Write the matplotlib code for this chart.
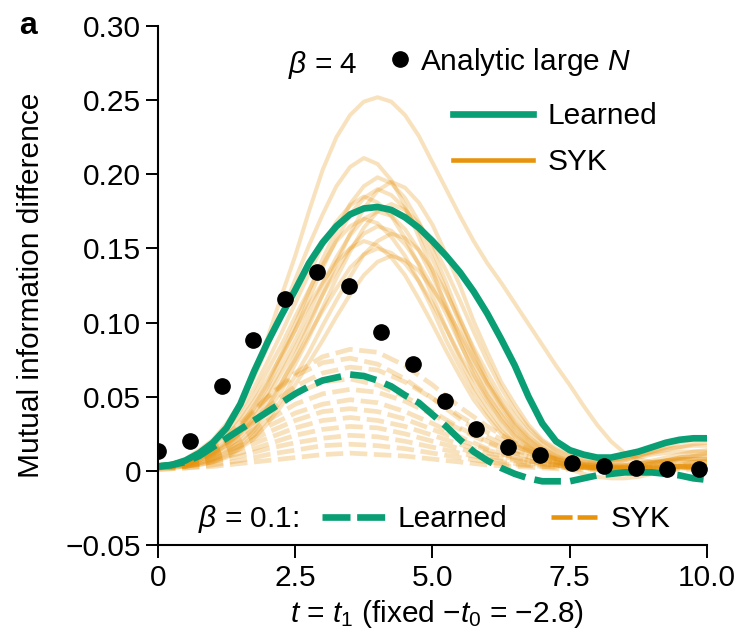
import numpy as np
import matplotlib
matplotlib.use("Agg")
import matplotlib.pyplot as plt

plt.rcParams['font.family'] = ['Liberation Sans', 'DejaVu Sans']
plt.rcParams['mathtext.fontset'] = 'custom'
plt.rcParams['mathtext.rm'] = 'Liberation Sans'
plt.rcParams['mathtext.it'] = 'Liberation Sans:italic'
plt.rcParams['mathtext.bf'] = 'Liberation Sans:bold'

# time grids (fine grid for solid curves, coarse for the beta=0.1 SYK bundle)
t_fine = np.arange(41) * 0.25
t_coarse = np.arange(21) * 0.5

# analytic large-N points (beta = 4)
t_dots = [0.0, 0.58, 1.16, 1.74, 2.32, 2.9, 3.48, 4.06, 4.64, 5.22, 5.8, 6.38, 6.96, 7.54, 8.12, 8.7, 9.28, 9.86]
mi_dots = [0.0135, 0.020, 0.057, 0.088, 0.116, 0.134, 0.125, 0.094, 0.072, 0.047, 0.028,
           0.016, 0.011, 0.005, 0.003, 0.002, 0.001, 0.001]

# learned model, beta = 4 (solid) and beta = 0.1 (dashed)
learned_b4 = [0.003, 0.004, 0.007, 0.012, 0.019, 0.029, 0.045, 0.067, 0.087, 0.105, 0.122,
              0.140, 0.154, 0.165, 0.173, 0.177, 0.178, 0.176, 0.171, 0.164, 0.155, 0.145,
              0.134, 0.121, 0.106, 0.089, 0.071, 0.050, 0.032, 0.020, 0.014, 0.011, 0.009,
              0.009, 0.011, 0.013, 0.016, 0.019, 0.021, 0.022, 0.022]
learned_b01 = [0.003, 0.004, 0.006, 0.010, 0.016, 0.022, 0.028, 0.034, 0.040, 0.046, 0.052,
               0.057, 0.061, 0.063, 0.065, 0.064, 0.061, 0.057, 0.051, 0.046, 0.038, 0.030,
               0.021, 0.013, 0.007, 0.002, -0.002, -0.005, -0.007, -0.007, -0.007, -0.005,
               -0.003, -0.002, -0.001, -0.001, -0.001, -0.002, -0.003, -0.005, -0.006]

# SYK instances, beta = 4 (on t_fine)
syk_b4 = [
    [0.004, 0.005, 0.007, 0.012, 0.020, 0.030, 0.045, 0.065, 0.090, 0.118, 0.145, 0.175, 0.203, 0.225,
     0.240, 0.249, 0.252, 0.249, 0.240, 0.226, 0.208, 0.190, 0.172, 0.155, 0.140, 0.127, 0.113, 0.099,
     0.085, 0.071, 0.058, 0.044, 0.031, 0.020, 0.012, 0.008, 0.006, 0.006, 0.008, 0.010, 0.012],
    [0.004, 0.005, 0.008, 0.014, 0.021, 0.032, 0.046, 0.063, 0.084, 0.106, 0.129, 0.152, 0.173, 0.192,
     0.205, 0.211, 0.207, 0.196, 0.179, 0.158, 0.135, 0.110, 0.087, 0.065, 0.049, 0.034, 0.023, 0.016,
     0.011, 0.008, 0.006, 0.005, 0.005, 0.006, 0.007, 0.009, 0.011, 0.012, 0.013, 0.013, 0.013],
    [0.003, 0.004, 0.005, 0.008, 0.013, 0.020, 0.030, 0.044, 0.059, 0.079, 0.099, 0.121, 0.143, 0.162,
     0.180, 0.192, 0.198, 0.194, 0.184, 0.168, 0.149, 0.127, 0.103, 0.081, 0.061, 0.046, 0.032, 0.022,
     0.015, 0.010, 0.007, 0.006, 0.006, 0.007, 0.009, 0.011, 0.013, 0.015, 0.016, 0.017, 0.017],
    [0.003, 0.003, 0.004, 0.005, 0.008, 0.013, 0.020, 0.029, 0.043, 0.059, 0.078, 0.098, 0.119, 0.140,
     0.160, 0.177, 0.189, 0.195, 0.191, 0.181, 0.166, 0.146, 0.125, 0.101, 0.080, 0.060, 0.045, 0.031,
     0.021, 0.015, 0.011, 0.008, 0.007, 0.007, 0.008, 0.010, 0.012, 0.014, 0.016, 0.018, 0.019],
    [0.003, 0.003, 0.005, 0.008, 0.012, 0.019, 0.029, 0.042, 0.057, 0.076, 0.095, 0.116, 0.137, 0.156,
     0.173, 0.184, 0.190, 0.186, 0.177, 0.162, 0.143, 0.122, 0.099, 0.078, 0.059, 0.044, 0.030, 0.021,
     0.014, 0.009, 0.006, 0.004, 0.003, 0.003, 0.004, 0.005, 0.006, 0.007, 0.008, 0.008, 0.008],
    [0.003, 0.005, 0.007, 0.012, 0.019, 0.028, 0.041, 0.056, 0.074, 0.093, 0.113, 0.133, 0.152, 0.168,
     0.179, 0.185, 0.181, 0.172, 0.157, 0.139, 0.118, 0.096, 0.076, 0.057, 0.043, 0.030, 0.020, 0.014,
     0.009, 0.006, 0.004, 0.003, 0.002, 0.002, 0.003, 0.004, 0.005, 0.006, 0.007, 0.007, 0.007],
    [0.003, 0.003, 0.003, 0.005, 0.007, 0.012, 0.018, 0.027, 0.040, 0.054, 0.072, 0.090, 0.110, 0.130,
     0.148, 0.164, 0.175, 0.180, 0.176, 0.167, 0.153, 0.135, 0.115, 0.094, 0.074, 0.056, 0.041, 0.029,
     0.020, 0.014, 0.010, 0.007, 0.005, 0.004, 0.004, 0.005, 0.007, 0.009, 0.011, 0.013, 0.014],
    [0.003, 0.003, 0.004, 0.007, 0.011, 0.018, 0.026, 0.039, 0.053, 0.070, 0.088, 0.107, 0.126, 0.144,
     0.159, 0.170, 0.175, 0.172, 0.163, 0.149, 0.131, 0.112, 0.091, 0.072, 0.054, 0.040, 0.028, 0.019,
     0.013, 0.008, 0.005, 0.003, 0.002, 0.001, 0.001, 0.002, 0.003, 0.004, 0.005, 0.006, 0.006],
    [0.003, 0.004, 0.007, 0.011, 0.017, 0.026, 0.037, 0.051, 0.068, 0.085, 0.104, 0.122, 0.139, 0.155,
     0.165, 0.170, 0.167, 0.158, 0.145, 0.128, 0.109, 0.088, 0.070, 0.053, 0.039, 0.027, 0.019, 0.013,
     0.008, 0.004, 0.001, -0.002, -0.004, -0.005, -0.005, -0.004, -0.002, 0.000, 0.002, 0.003, 0.004],
    [0.002, 0.003, 0.004, 0.007, 0.011, 0.017, 0.025, 0.036, 0.050, 0.066, 0.083, 0.101, 0.119, 0.135,
     0.150, 0.160, 0.165, 0.162, 0.153, 0.140, 0.124, 0.106, 0.086, 0.068, 0.051, 0.038, 0.026, 0.018,
     0.012, 0.008, 0.005, 0.004, 0.004, 0.005, 0.007, 0.010, 0.013, 0.016, 0.019, 0.021, 0.022],
    [0.002, 0.002, 0.003, 0.004, 0.006, 0.010, 0.016, 0.024, 0.035, 0.048, 0.064, 0.080, 0.098, 0.115,
     0.131, 0.146, 0.155, 0.160, 0.157, 0.149, 0.136, 0.120, 0.102, 0.083, 0.066, 0.050, 0.037, 0.026,
     0.018, 0.012, 0.008, 0.005, 0.003, 0.002, 0.002, 0.003, 0.005, 0.007, 0.009, 0.010, 0.011],
    [0.003, 0.004, 0.006, 0.010, 0.016, 0.023, 0.034, 0.047, 0.062, 0.078, 0.095, 0.112, 0.127, 0.141,
     0.150, 0.155, 0.152, 0.144, 0.132, 0.116, 0.099, 0.081, 0.064, 0.048, 0.036, 0.025, 0.017, 0.012,
     0.008, 0.005, 0.003, 0.002, 0.002, 0.003, 0.004, 0.005, 0.006, 0.007, 0.008, 0.008, 0.008],
    [0.002, 0.003, 0.004, 0.006, 0.010, 0.015, 0.023, 0.033, 0.045, 0.060, 0.075, 0.092, 0.108, 0.123,
     0.137, 0.146, 0.150, 0.147, 0.140, 0.128, 0.113, 0.096, 0.078, 0.062, 0.047, 0.035, 0.024, 0.017,
     0.011, 0.007, 0.004, 0.002, 0.001, 0.001, 0.002, 0.003, 0.005, 0.007, 0.009, 0.010, 0.010],
    [0.002, 0.002, 0.003, 0.004, 0.006, 0.009, 0.015, 0.022, 0.032, 0.044, 0.058, 0.073, 0.088, 0.104,
     0.119, 0.132, 0.141, 0.145, 0.142, 0.135, 0.123, 0.109, 0.093, 0.075, 0.059, 0.045, 0.033, 0.023,
     0.016, 0.011, 0.007, 0.004, 0.002, 0.000, -0.001, -0.001, 0.000, 0.002, 0.004, 0.006, 0.007],
]

# SYK instances, beta = 0.1 (on t_coarse)
syk_b01 = [
    [0.002, 0.005, 0.014, 0.030, 0.050, 0.066, 0.077, 0.082, 0.080, 0.071, 0.058, 0.043, 0.030, 0.019, 0.011, 0.006, 0.003, 0.002, 0.002, 0.003, 0.003],
    [0.003, 0.006, 0.016, 0.032, 0.050, 0.064, 0.073, 0.076, 0.072, 0.062, 0.049, 0.035, 0.023, 0.014, 0.008, 0.004, 0.002, 0.002, 0.002, 0.003, 0.003],
    [0.002, 0.004, 0.012, 0.026, 0.043, 0.057, 0.066, 0.070, 0.068, 0.060, 0.049, 0.037, 0.026, 0.017, 0.010, 0.006, 0.004, 0.003, 0.003, 0.004, 0.004],
    [0.002, 0.005, 0.013, 0.026, 0.040, 0.052, 0.060, 0.062, 0.058, 0.050, 0.040, 0.029, 0.020, 0.012, 0.007, 0.004, 0.002, 0.002, 0.002, 0.003, 0.003],
    [0.002, 0.004, 0.011, 0.022, 0.034, 0.045, 0.052, 0.055, 0.053, 0.047, 0.038, 0.028, 0.019, 0.012, 0.007, 0.004, 0.003, 0.002, 0.003, 0.003, 0.004],
    [0.002, 0.004, 0.010, 0.019, 0.030, 0.039, 0.045, 0.048, 0.046, 0.040, 0.032, 0.023, 0.015, 0.009, 0.005, 0.003, 0.002, 0.002, 0.002, 0.003, 0.003],
    [0.002, 0.004, 0.009, 0.017, 0.026, 0.034, 0.040, 0.042, 0.040, 0.035, 0.028, 0.021, 0.014, 0.009, 0.005, 0.003, 0.002, 0.002, 0.003, 0.003, 0.003],
    [0.002, 0.003, 0.008, 0.015, 0.022, 0.029, 0.034, 0.036, 0.034, 0.030, 0.024, 0.018, 0.012, 0.008, 0.005, 0.003, 0.002, 0.002, 0.002, 0.003, 0.003],
    [0.002, 0.003, 0.007, 0.012, 0.018, 0.024, 0.028, 0.030, 0.029, 0.025, 0.020, 0.015, 0.010, 0.007, 0.004, 0.003, 0.002, 0.002, 0.002, 0.002, 0.003],
    [0.002, 0.003, 0.006, 0.010, 0.015, 0.019, 0.022, 0.024, 0.023, 0.020, 0.016, 0.012, 0.008, 0.005, 0.003, 0.002, 0.002, 0.002, 0.002, 0.002, 0.002],
    [0.001, 0.002, 0.004, 0.007, 0.011, 0.014, 0.017, 0.018, 0.017, 0.015, 0.012, 0.009, 0.006, 0.004, 0.003, 0.002, 0.001, 0.001, 0.002, 0.002, 0.002],
    [0.001, 0.002, 0.003, 0.005, 0.007, 0.009, 0.011, 0.012, 0.011, 0.010, 0.008, 0.006, 0.004, 0.003, 0.002, 0.001, 0.001, 0.001, 0.001, 0.001, 0.001],
]

xticks = [0, 2.5, 5.0, 7.5, 10.0]
xticklabels = ['0', '2.5', '5.0', '7.5', '10.0']
yticks = [-0.05, 0, 0.05, 0.10, 0.15, 0.20, 0.25, 0.30]
yticklabels = ['\u22120.05', '0', '0.05', '0.10', '0.15', '0.20', '0.25', '0.30']

green = '#0a9e74'
orange = '#e8930c'
fs = 21.5

fig = plt.figure(figsize=(7.38, 6.36), dpi=100)
ax = fig.add_axes([0.214, 0.143, 0.744, 0.816])

for row in syk_b01:
    ax.plot(t_coarse, row, color=orange, alpha=0.27, lw=3.4, dashes=(3.7, 1.4))
for row in syk_b4:
    ax.plot(t_fine, row, color=orange, alpha=0.27, lw=2.9, solid_joinstyle='round')

l_b01, = ax.plot(t_fine, learned_b01, color=green, lw=4.8, dashes=(4.0, 1.4))
l_b4, = ax.plot(t_fine, learned_b4, color=green, lw=4.8, solid_joinstyle='round')
dots, = ax.plot(t_dots, mi_dots, 'o', color='black', ms=11, ls='none', zorder=5)

# proxy handles for the legend keys
h_syk, = ax.plot([], [], color=orange, lw=3.3)
h_syk_d, = ax.plot([], [], color=orange, lw=3.3, dashes=(4.6, 1.1))
h_l_d, = ax.plot([], [], color=green, lw=4.8, dashes=(4.2, 1.0))

ax.set_xlim(0, 10)
ax.set_ylim(-0.05, 0.30)
ax.set_xticks(xticks)
ax.set_xticklabels(xticklabels)
ax.set_yticks(yticks)
ax.set_yticklabels(yticklabels)
ax.tick_params(labelsize=fs, length=9, width=1.4, direction='out')
ax.tick_params(axis='y', pad=3)
ax.tick_params(axis='x', pad=5)
for s in ['top', 'right']:
    ax.spines[s].set_visible(False)
for s in ['left', 'bottom']:
    ax.spines[s].set_linewidth(1.5)

ax.set_ylabel('Mutual information difference', fontsize=fs)
ax.yaxis.set_label_coords(-0.205, 0.5)
ax.set_xlabel(r'$t$ = $t_1$ (fixed $-t_0$ = $-$2.8)', fontsize=fs)
ax.xaxis.set_label_coords(0.508, -0.102)

fig.text(0.026, 0.959, 'a', fontsize=23, fontweight='bold', va='center', ha='left')

# top legend
ax.text(0.237, 0.925, r'$\beta$ = 4', fontsize=fs, transform=ax.transAxes, va='center')
leg1 = ax.legend([dots], [r'Analytic large $N$'], loc='center left',
                 bbox_to_anchor=(0.419, 0.931), frameon=False, fontsize=fs,
                 handlelength=0.8, handletextpad=0.27, borderpad=0, borderaxespad=0)
ax.add_artist(leg1)
leg2 = ax.legend([l_b4, h_syk], ['Learned', 'SYK'], loc='center left',
                 bbox_to_anchor=(0.537, 0.782), frameon=False, fontsize=fs,
                 handlelength=2.68, handletextpad=0.5, labelspacing=0.6,
                 borderpad=0, borderaxespad=0)
ax.add_artist(leg2)

# bottom legend
ax.text(0.073, 0.050, r'$\beta$ = 0.1:', fontsize=fs, transform=ax.transAxes, va='center')
leg3 = ax.legend([h_l_d], ['Learned'], loc='center left',
                 bbox_to_anchor=(0.299, 0.050), frameon=False, fontsize=fs,
                 handlelength=2.15, handletextpad=0.37, borderpad=0, borderaxespad=0)
ax.add_artist(leg3)
ax.legend([h_syk_d], ['SYK'], loc='center left',
          bbox_to_anchor=(0.716, 0.050), frameon=False, fontsize=fs,
          handlelength=1.54, handletextpad=0.45, borderpad=0, borderaxespad=0)

fig.savefig('out.png', dpi=100)
